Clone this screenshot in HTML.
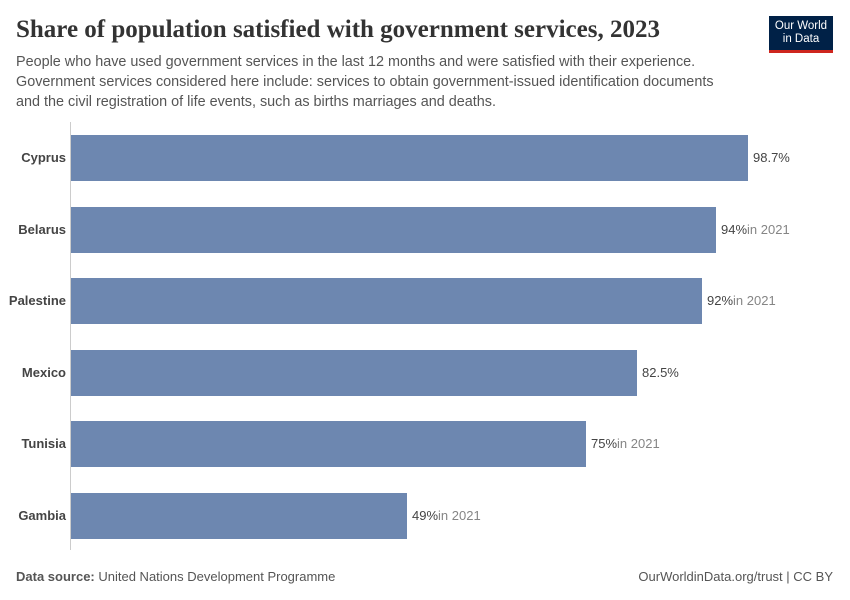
<!DOCTYPE html>
<html><head><style>
body{margin:0;width:850px;height:600px;background:#fff;font-family:"Liberation Sans",sans-serif;position:relative;overflow:hidden}
.t{position:absolute;white-space:nowrap}
.bar{position:absolute;left:71px;height:46px;background:#6d87b0}
.lab{position:absolute;right:784px;font-size:13px;font-weight:bold;color:#444;text-align:right}
.val{position:absolute;font-size:13px;color:#444}
.val span{color:#858585}
</style></head><body>
<div class="t" style="left:16px;top:16px;font-family:'Liberation Serif',serif;font-size:25px;font-weight:bold;color:#333">Share of population satisfied with government services, 2023</div>
<div style="position:absolute;left:769px;top:16px;width:64px;height:37px;background:#002147;border-bottom:3px solid #ce261e;color:#fff;font-size:11.5px;line-height:13px;text-align:center;padding-top:4px;box-sizing:border-box">Our World<br>in Data</div>
<div class="t" style="left:16px;top:52px;font-size:14.4px;line-height:20px;color:#555">People who have used government services in the last 12 months and were satisfied with their experience.<br>Government services considered here include: services to obtain government-issued identification documents<br>and the civil registration of life events, such as births marriages and deaths.</div>
<div style="position:absolute;left:70px;top:122px;width:1px;height:428px;background:#ccc"></div>

<div class="bar" style="top:135px;width:677px"></div>
<div class="bar" style="top:207px;width:645px"></div>
<div class="bar" style="top:278px;width:631px"></div>
<div class="bar" style="top:350px;width:566px"></div>
<div class="bar" style="top:421px;width:515px"></div>
<div class="bar" style="top:493px;width:336px"></div>

<div class="lab t" style="top:150px">Cyprus</div>
<div class="lab t" style="top:222px">Belarus</div>
<div class="lab t" style="top:293px">Palestine</div>
<div class="lab t" style="top:365px">Mexico</div>
<div class="lab t" style="top:436px">Tunisia</div>
<div class="lab t" style="top:508px">Gambia</div>

<div class="val t" style="left:753px;top:150px">98.7%</div>
<div class="val t" style="left:721px;top:222px">94%<span>in 2021</span></div>
<div class="val t" style="left:707px;top:293px">92%<span>in 2021</span></div>
<div class="val t" style="left:642px;top:365px">82.5%</div>
<div class="val t" style="left:591px;top:436px">75%<span>in 2021</span></div>
<div class="val t" style="left:412px;top:508px">49%<span>in 2021</span></div>

<div class="t" style="left:16px;top:569px;font-size:13px;color:#555"><b>Data source:</b> United Nations Development Programme</div>
<div class="t" style="right:17px;top:569px;font-size:13px;color:#555">OurWorldinData.org/trust | CC BY</div>
</body></html>
